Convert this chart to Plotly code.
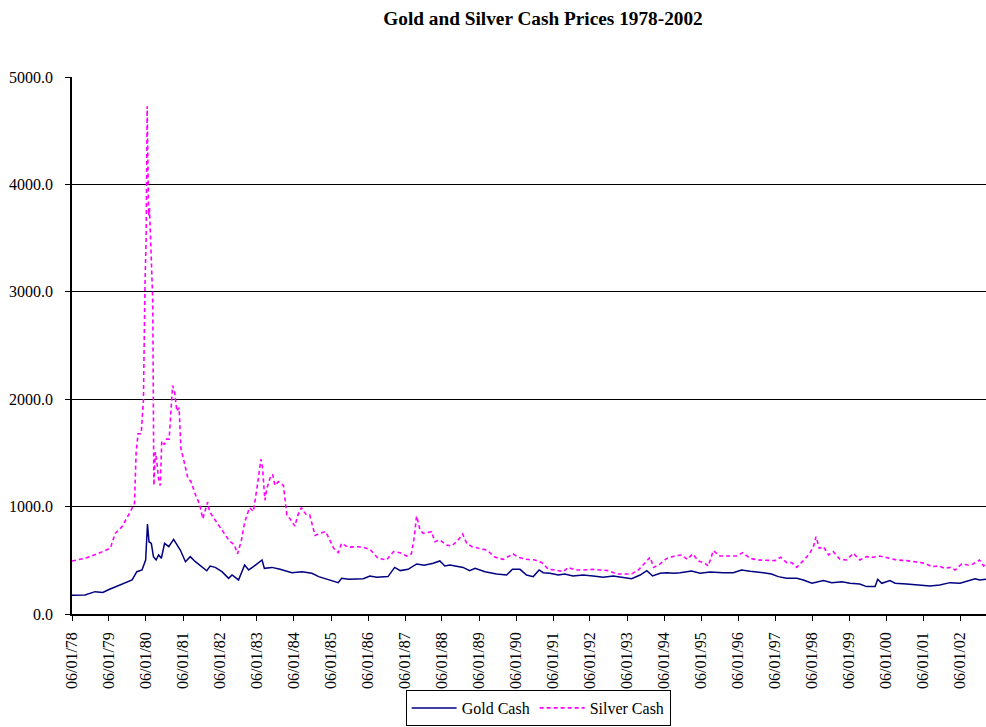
import plotly.graph_objects as go

gold_dates = [
    "1978-01-06", "1978-05-15", "1978-08-22", "1978-11-06", "1979-01-01", "1979-05-15",
    "1979-08-22", "1979-10-08", "1979-11-28", "1980-01-03", "1980-01-21", "1980-02-05",
    "1980-02-28", "1980-03-20", "1980-04-15", "1980-05-10", "1980-06-06", "1980-07-08",
    "1980-08-18", "1980-10-05", "1980-11-06", "1980-12-10", "1981-01-30", "1981-03-18",
    "1981-05-08", "1981-07-12", "1981-08-28", "1981-10-01", "1981-11-20", "1982-01-25",
    "1982-04-01", "1982-05-05", "1982-07-08", "1982-09-06", "1982-10-16", "1982-12-02",
    "1983-02-06", "1983-02-25", "1983-03-20", "1983-06-02", "1983-08-22", "1983-12-16",
    "1984-03-25", "1984-07-01", "1984-09-06", "1984-12-14",
    "1985-03-18", "1985-04-20", "1985-07-01", "1985-11-20", "1986-01-25", "1986-04-01",
    "1986-07-22", "1986-09-26", "1986-11-20", "1987-02-06", "1987-05-01", "1987-07-15",
    "1987-10-12", "1987-12-16", "1988-02-03", "1988-03-25", "1988-05-30", "1988-08-01",
    "1988-10-05", "1988-11-28", "1989-03-06", "1989-06-28", "1989-10-05", "1989-12-02",
    "1990-02-14", "1990-04-20", "1990-06-25", "1990-08-22", "1990-10-01", "1990-12-06",
    "1991-02-28", "1991-05-01", "1991-07-22", "1991-10-30", "1992-02-06", "1992-05-15",
    "1992-08-22", "1992-11-28", "1993-02-20", "1993-05-15", "1993-07-20", "1993-09-15",
    "1993-11-28", "1994-02-03", "1994-04-15", "1994-06-14", "1994-10-05", "1994-12-28",
    "1995-04-05", "1995-08-15", "1995-11-20", "1996-02-10", "1996-05-05", "1996-09-12",
    "1996-12-02", "1997-02-06", "1997-05-01", "1997-08-08", "1997-10-12", "1998-01-05",
    "1998-04-28", "1998-07-20", "1998-10-28", "1999-01-15", "1999-04-22", "1999-06-28",
    "1999-09-20", "1999-10-16", "1999-11-25", "2000-02-14", "2000-04-05", "2000-07-28",
    "2000-12-06", "2001-03-15", "2001-06-20", "2001-09-28", "2002-01-06", "2002-03-12",
    "2002-06-03", "2002-07-20", "2002-09-19",
]
gold_values = [
    175, 178, 208, 200, 226, 275,
    317, 394, 410, 503, 838, 673,
    658, 534, 503, 550, 519, 658,
    627, 695, 643, 596, 487, 534,
    487, 441, 403, 447, 434, 394,
    332, 363, 317, 456, 410, 441,
    490, 503, 425, 434, 416, 385,
    394, 379, 348, 317,
    292, 332, 323, 329, 354, 342,
    348, 434, 404, 416, 466, 453,
    472, 494, 447, 456, 447, 434,
    404, 425, 394, 373, 363, 416,
    416, 363, 348, 410, 385, 379,
    363, 373, 354, 363, 354, 342,
    354, 339, 329, 363, 404, 354,
    379, 385, 379, 385, 401, 379,
    391, 385, 385, 410, 397, 385,
    373, 348, 332, 332, 317, 286,
    311, 292, 301, 286, 279, 255,
    255, 323, 286, 311, 286, 279,
    267, 261, 270, 292, 286, 307,
    329, 317, 323,
]

silver_dates = [
    "1978-01-06", "1978-05-15", "1978-09-25", "1979-01-20", "1979-03-08", "1979-05-15",
    "1979-08-05", "1979-09-15", "1979-10-01", "1979-10-20", "1979-11-20", "1979-12-12",
    "1979-12-28", "1980-01-08", "1980-01-18", "1980-01-25", "1980-02-01", "1980-02-10",
    "1980-02-20", "1980-03-03", "1980-03-13", "1980-03-24", "1980-04-08", "1980-04-20",
    "1980-05-08", "1980-05-26", "1980-06-10", "1980-07-05", "1980-07-28", "1980-08-22",
    "1980-09-12", "1980-09-25", "1980-10-16", "1980-11-06", "1980-11-28", "1980-12-16",
    "1981-01-20", "1981-02-22", "1981-03-25", "1981-05-15", "1981-06-18", "1981-07-20",
    "1981-09-06", "1981-09-24", "1981-11-10", "1981-12-28", "1982-02-17", "1982-04-08",
    "1982-05-26", "1982-06-28", "1982-08-04", "1982-09-06", "1982-10-24", "1982-12-02",
    "1983-01-15", "1983-02-14", "1983-03-01", "1983-03-25", "1983-04-12", "1983-05-15",
    "1983-06-10", "1983-07-02", "1983-08-04", "1983-09-24", "1983-10-28", "1983-11-28",
    "1984-01-15", "1984-02-14", "1984-03-20", "1984-05-08", "1984-06-10", "1984-08-01",
    "1984-09-16", "1984-11-14", "1984-12-28",
    "1985-02-01", "1985-03-18", "1985-04-20", "1985-06-25", "1985-09-15", "1985-11-20",
    "1986-01-25", "1986-04-15", "1986-07-08", "1986-09-15", "1986-11-18", "1987-01-22",
    "1987-03-10", "1987-04-08", "1987-04-30", "1987-05-15", "1987-06-03", "1987-07-05",
    "1987-08-08", "1987-09-25", "1987-10-28", "1987-12-16", "1988-02-20", "1988-04-12",
    "1988-06-18", "1988-07-28", "1988-09-06", "1988-10-28", "1989-01-01", "1989-03-22",
    "1989-06-15", "1989-09-01", "1989-12-08", "1990-01-30", "1990-04-20", "1990-07-12",
    "1990-09-18", "1990-11-22", "1991-01-26", "1991-04-15", "1991-06-06", "1991-08-12",
    "1991-10-30", "1992-02-06", "1992-04-12", "1992-07-05", "1992-09-25", "1992-11-28",
    "1993-02-20", "1993-04-28", "1993-07-01", "1993-08-22", "1993-09-25", "1993-11-28",
    "1994-02-03", "1994-04-22", "1994-06-28", "1994-08-22", "1994-10-16", "1994-12-10",
    "1995-02-14", "1995-03-18", "1995-05-08", "1995-07-12", "1995-10-20", "1995-12-25",
    "1996-02-20", "1996-05-05", "1996-07-22", "1996-10-30", "1997-01-05", "1997-03-03",
    "1997-05-01", "1997-06-20", "1997-08-08", "1997-10-12", "1997-12-10", "1998-01-20",
    "1998-02-14", "1998-03-18", "1998-04-28", "1998-06-18", "1998-08-04", "1998-10-08",
    "1998-12-12", "1999-02-18", "1999-04-22", "1999-07-01", "1999-09-01", "1999-11-05",
    "2000-01-30", "2000-04-20", "2000-07-28", "2000-11-03", "2001-01-26", "2001-04-01",
    "2001-06-06", "2001-08-12", "2001-09-28", "2001-11-18", "2002-01-22", "2002-03-28",
    "2002-05-15", "2002-07-17", "2002-08-26", "2002-09-19",
]
silver_values = [
    493, 519, 565, 613, 751, 813,
    953, 1031, 1507, 1679, 1679, 1989,
    3091, 3505, 4728, 4125, 3711, 3780,
    3560, 3298, 2919, 1197, 1507, 1441,
    1266, 1197, 1611, 1577, 1628, 1628,
    1955, 2127, 2060, 1888, 1921, 1541,
    1405, 1266, 1232, 1094, 1025, 887,
    1042, 955, 887, 818, 750, 681,
    646, 560, 681, 852, 990, 955,
    1232, 1441, 1370, 1059, 1163, 1266,
    1300, 1197, 1232, 1197, 921, 887,
    818, 921, 990, 921, 921, 732,
    750, 767, 681,
    612, 571, 658, 621, 627, 621,
    602, 518, 503, 581, 571, 540,
    559, 720, 912, 860, 782, 751,
    757, 767, 673, 689, 643, 633,
    695, 745, 658, 627, 612, 596,
    528, 509, 559, 528, 509, 503,
    478, 416, 410, 394, 434, 410,
    410, 416, 410, 404, 373, 373,
    373, 410, 478, 528, 434, 466,
    518, 540, 550, 509, 559, 494,
    472, 447, 590, 540, 540, 540,
    571, 518, 503, 503, 497, 528,
    478, 478, 434, 497, 559, 627,
    720, 612, 627, 550, 581, 509,
    503, 565, 503, 534, 528, 540,
    518, 503, 497, 487, 472, 441,
    447, 425, 434, 410, 466, 456,
    466, 503, 447, 460,
]

year_ticks = [f"{y}-01-06" for y in range(1978, 2003)]

FONT = "Liberation Serif, Times New Roman, serif"

fig = go.Figure()
fig.add_trace(go.Scatter(
    x=gold_dates, y=gold_values, mode="lines", name="Gold Cash",
    line=dict(color="#000080", width=1.5),
))
fig.add_trace(go.Scatter(
    x=silver_dates, y=silver_values, mode="lines", name="Silver Cash",
    line=dict(color="#FF00FF", width=1.6, dash="4px,3px"),
))

fig.update_layout(
    width=986, height=727,
    margin=dict(l=72, r=0, t=77, b=113, autoexpand=False),
    paper_bgcolor="white", plot_bgcolor="white",
    font=dict(family=FONT, size=16, color="black"),
    title=dict(
        text="<b>Gold and Silver Cash Prices 1978-2002</b>",
        x=543 / 986, xanchor="center", xref="container",
        y=1 - 18.5 / 727, yanchor="middle", yref="container",
        font=dict(family=FONT, size=19.3, color="black"),
    ),
    showlegend=True,
    legend=dict(
        orientation="h", x=0.510, xanchor="center", y=-0.2086, yanchor="bottom",
        bordercolor="black", borderwidth=1, bgcolor="white",
        font=dict(family=FONT, size=16, color="black"),
        itemwidth=45, tracegroupgap=0,
    ),
    xaxis=dict(
        type="date", range=["1978-01-06", "2002-09-19"],
        tickvals=year_ticks, tickformat="%d/%m/%y", tickangle=-90,
        ticks="outside", ticklen=5, tickcolor="black",
        showline=True, linecolor="black", linewidth=1.5,
        showgrid=False, zeroline=False, ticklabelstandoff=5,
        automargin=False,
        tickfont=dict(family=FONT, size=16),
    ),
    yaxis=dict(
        range=[0, 5000], tickvals=[0, 1000, 2000, 3000, 4000, 5000],
        tickformat=".1f", ticks="outside", ticklen=5, tickcolor="black",
        showline=True, linecolor="black", linewidth=1.5,
        showgrid=True, gridcolor="black", gridwidth=1,
        zeroline=False, ticklabelstandoff=9, automargin=False,
        tickfont=dict(family=FONT, size=16),
    ),
)

fig.write_html("out.html")
